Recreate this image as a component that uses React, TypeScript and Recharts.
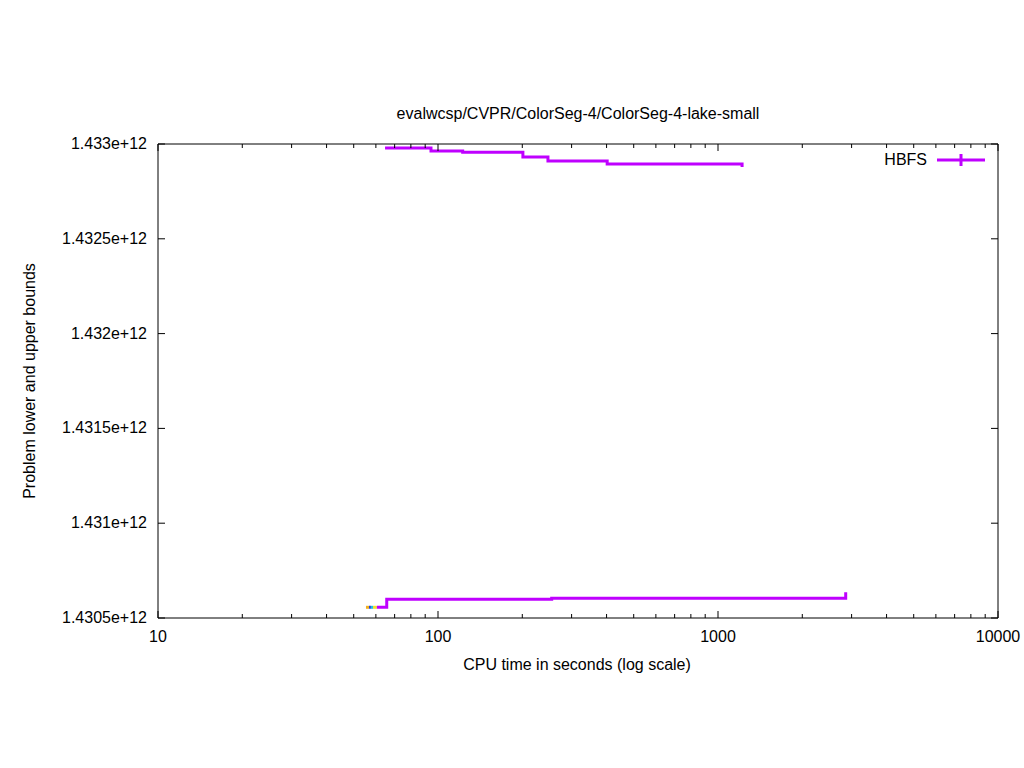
import React from 'react';
import { LineChart, Line, XAxis, YAxis, Customized } from 'recharts';

// x axis (log scale) ticks
const xTicks = [
  10, 20, 30, 40, 50, 60, 70, 80, 90,
  100, 200, 300, 400, 500, 600, 700, 800, 900,
  1000, 2000, 3000, 4000, 5000, 6000, 7000, 8000, 9000, 10000,
];
const xMajor = [10, 100, 1000, 10000];

const yTicks = [1.4305e12, 1.431e12, 1.4315e12, 1.432e12, 1.4325e12, 1.433e12];
const yTickLabels = ['1.4305e+12', '1.431e+12', '1.4315e+12', '1.432e+12', '1.4325e+12', '1.433e+12'];

// HBFS upper bound (steps)
const upperTime = [64.7, 94.4, 122.5, 201, 247, 402, 1219];
const upperValue = [1.4329789e12, 1.4329631e12, 1.4329562e12, 1.4329314e12, 1.4329103e12, 1.4328945e12, 1.4328787e12];

// HBFS lower bound (steps)
const lowerTime = [60.5, 65.6, 254.7, 2858];
const lowerValue = [1.4305564e12, 1.4305986e12, 1.4306039e12, 1.4306355e12];

// tiny bits of other series near the start of the lower bound
const otherColors = ['#f0b020', '#2040e0', '#20c0e0', '#f0e030'];
const otherStart = [55.3, 56.7, 57.6, 58.6];
const otherEnd = [56.7, 57.6, 58.6, 60.5];
const otherValue = 1.4305564e12;

const seriesName = 'HBFS';
const MAIN = '#bf00ff';
const FONT = '"Liberation Sans", Arial, sans-serif';
const FS = 16;

const upperData = upperTime.map((t, i) => ({ t, v: upperValue[i] }));
const lowerData = lowerTime.map((t, i) => ({ t, v: lowerValue[i] }));

const BottomTick = (props: any) => {
  const { x, y, payload } = props;
  const major = xMajor.includes(payload.value);
  return (
    <g>
      <line x1={x} x2={x} y1={y} y2={y - (major ? 7 : 4)} stroke="#000" />
      {major && (
        <text x={x} y={y + 24} textAnchor="middle" fontSize={FS} fontFamily={FONT} fill="#000">
          {payload.value}
        </text>
      )}
    </g>
  );
};

const TopTick = (props: any) => {
  const { x, y, payload } = props;
  const major = xMajor.includes(payload.value);
  return <line x1={x} x2={x} y1={y} y2={y + (major ? 7 : 4)} stroke="#000" />;
};

const LeftTick = (props: any) => {
  const { x, y, index } = props;
  return (
    <g>
      <line x1={x} x2={x + 7} y1={y} y2={y} stroke="#000" />
      <text x={x - 11} y={y + 5} textAnchor="end" fontSize={FS} fontFamily={FONT} fill="#000">
        {yTickLabels[index]}
      </text>
    </g>
  );
};

const RightTick = (props: any) => {
  const { x, y } = props;
  return <line x1={x} x2={x - 7} y1={y} y2={y} stroke="#000" />;
};

const Labels = () => (
  <g fontFamily={FONT} fontSize={FS} fill="#000">
    <text x={578} y={119} textAnchor="middle">evalwcsp/CVPR/ColorSeg-4/ColorSeg-4-lake-small</text>
    <text x={577} y={670} textAnchor="middle">CPU time in seconds (log scale)</text>
    <text x={35} y={381} textAnchor="middle" transform="rotate(-90 35 381)">
      Problem lower and upper bounds
    </text>
    {/* key, top right inside the frame */}
    <text x={927} y={165} textAnchor="end">{seriesName}</text>
    <line x1={937} x2={985} y1={160} y2={160} stroke={MAIN} strokeWidth={3} />
    <line x1={961} x2={961} y1={154} y2={166} stroke={MAIN} strokeWidth={3} />
  </g>
);

export default function App() {
  return (
    <div style={{ width: 1024, height: 768, background: '#fff' }}>
      <style>{'body{margin:0}'}</style>
      <LineChart width={1024} height={768} margin={{ top: 143, right: 25, bottom: 120, left: 98 }}>
        <XAxis
          xAxisId="b"
          dataKey="t"
          type="number"
          scale="log"
          domain={[10, 10000]}
          ticks={xTicks}
          allowDataOverflow
          height={30}
          tickSize={0}
          tickMargin={0}
          tickLine={false}
          tick={<BottomTick />}
          interval={0}
          axisLine={{ stroke: '#000' }}
        />
        <XAxis
          xAxisId="t"
          orientation="top"
          dataKey="t"
          type="number"
          scale="log"
          domain={[10, 10000]}
          ticks={xTicks}
          allowDataOverflow
          height={1}
          tickSize={0}
          tickMargin={0}
          tickLine={false}
          tick={<TopTick />}
          interval={0}
          axisLine={{ stroke: '#000' }}
        />
        <YAxis
          yAxisId="l"
          type="number"
          domain={[1.4305e12, 1.433e12]}
          ticks={yTicks}
          allowDataOverflow
          width={60}
          tickSize={0}
          tickMargin={0}
          tickLine={false}
          tick={<LeftTick />}
          interval={0}
          axisLine={{ stroke: '#000' }}
        />
        <YAxis
          yAxisId="r"
          orientation="right"
          type="number"
          domain={[1.4305e12, 1.433e12]}
          ticks={yTicks}
          allowDataOverflow
          width={1}
          tickSize={0}
          tickMargin={0}
          tickLine={false}
          tick={<RightTick />}
          interval={0}
          axisLine={{ stroke: '#000' }}
        />
        {otherColors.map((c, i) => (
          <Line
            key={c}
            xAxisId="b"
            yAxisId="l"
            data={[{ t: otherStart[i], v: otherValue }, { t: otherEnd[i], v: otherValue }]}
            dataKey="v"
            stroke={c}
            strokeWidth={3}
            dot={false}
            isAnimationActive={false}
            legendType="none"
          />
        ))}
        <Line
          xAxisId="b"
          yAxisId="l"
          data={lowerData}
          dataKey="v"
          name={seriesName}
          type="stepAfter"
          stroke={MAIN}
          strokeWidth={3}
          dot={false}
          isAnimationActive={false}
        />
        <Line
          xAxisId="b"
          yAxisId="l"
          data={upperData}
          dataKey="v"
          name={seriesName}
          type="stepAfter"
          stroke={MAIN}
          strokeWidth={3}
          dot={false}
          isAnimationActive={false}
        />
        <Customized component={Labels} />
      </LineChart>
    </div>
  );
}
